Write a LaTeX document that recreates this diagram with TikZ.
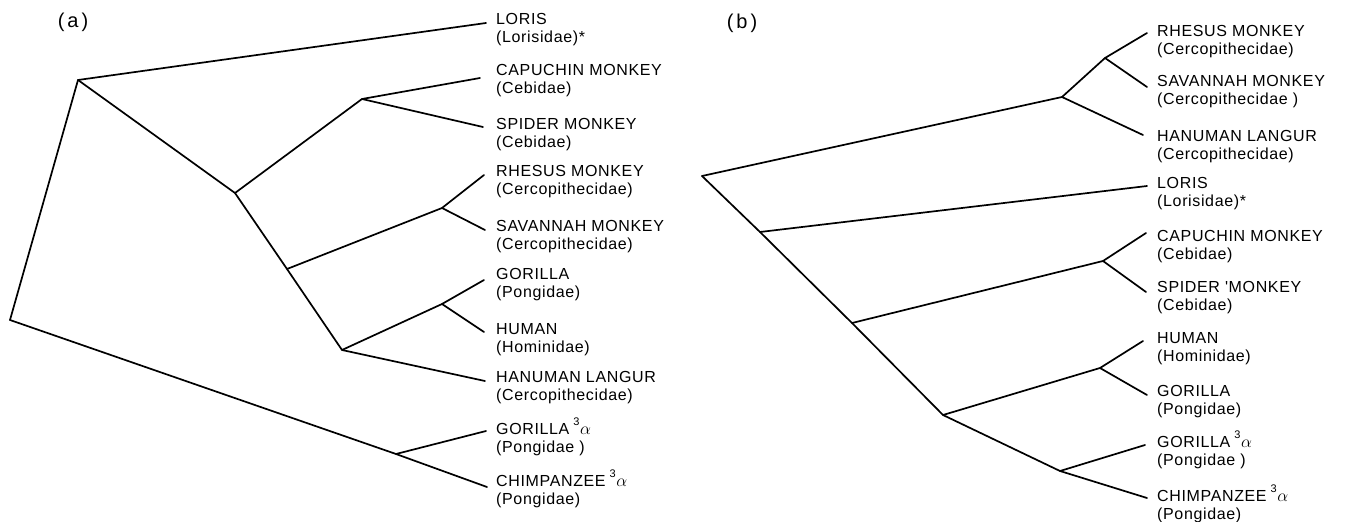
\documentclass[tikz,border=0pt]{standalone}
\usepackage{fontspec}
\setmainfont{Liberation Sans}
\newfontfamily\labfont{Liberation Sans}[LetterSpace=4]
\newfontfamily\panfont{Liberation Sans}[LetterSpace=15]
\newcommand{\sa}{\hspace{4pt}\smash{\raisebox{9pt}{\fontsize{11pt}{11pt}\selectfont 3}}\kern0.5pt{\fontsize{19pt}{19pt}\selectfont$\alpha$}}
\begin{document}
\begin{tikzpicture}[x=1pt,y=-1pt,
  branch/.style={line width=1.7pt,line cap=round,line join=round},
  leaf/.style={anchor=north west,inner sep=0pt,align=left,
    font=\labfont\fontsize{16pt}{18pt}\selectfont},
  panel/.style={inner sep=0pt,font=\panfont\fontsize{20pt}{20pt}\selectfont}]
\useasboundingbox (0,0) rectangle (1345,522);
% ---------- panel (a) ----------
\node[panel] (pa) at (73,22) {(a)};
\coordinate (ra) at (10,320);
\coordinate (a1) at (78,80);
\coordinate (a2) at (235,193);
\coordinate (aceb) at (362,99);
\coordinate (a3) at (287,269);
\coordinate (ars) at (442,208);
\coordinate (a4) at (342,350);
\coordinate (agh) at (442,304);
\coordinate (agc) at (396,454);
\coordinate (alor) at (486,23);
\coordinate (acap) at (480,78);
\coordinate (aspi) at (483,127);
\coordinate (arhe) at (484,175);
\coordinate (asav) at (485,230);
\coordinate (agor) at (484,280);
\coordinate (ahum) at (484,332);
\coordinate (ahan) at (485,381);
\coordinate (ag3) at (486,431);
\coordinate (achi) at (487,487);
\draw[branch] (ra) -- (a1) -- (alor);
\draw[branch] (a1) -- (a2) -- (aceb) -- (acap);
\draw[branch] (aceb) -- (aspi);
\draw[branch] (a2) -- (a3) -- (ars) -- (arhe);
\draw[branch] (ars) -- (asav);
\draw[branch] (a3) -- (a4) -- (agh) -- (agor);
\draw[branch] (agh) -- (ahum);
\draw[branch] (a4) -- (ahan);
\draw[branch] (ra) -- (agc) -- (achi);
\draw[branch] (agc) -- (ag3);
\node[leaf] (lalor) at (496,13) {LORIS\\(Lorisidae)*};
\node[leaf] (lacap) at (496,64) {CAPUCHIN MONKEY\\(Cebidae)};
\node[leaf] (laspi) at (496,118) {SPIDER MONKEY\\(Cebidae)};
\node[leaf] (larhe) at (496,165) {RHESUS MONKEY\\(Cercopithecidae)};
\node[leaf] (lasav) at (496,220) {SAVANNAH MONKEY\\(Cercopithecidae)};
\node[leaf] (lagor) at (496,268) {GORILLA\\(Pongidae)};
\node[leaf] (lahum) at (496,323) {HUMAN\\(Hominidae)};
\node[leaf] (lahan) at (496,371) {HANUMAN LANGUR\\(Cercopithecidae)};
\node[leaf] (lag3) at (496,423) {GORILLA\sa\\(Pongidae )};
\node[leaf] (lachi) at (496,475) {CHIMPANZEE\sa\\(Pongidae)};
% ---------- panel (b) ----------
\node[panel] (pb) at (742,23) {(b)};
\coordinate (rb) at (702,176);
\coordinate (bt) at (1062,97);
\coordinate (brs) at (1105,58);
\coordinate (b2) at (760,232);
\coordinate (b3) at (852,323);
\coordinate (bceb) at (1103,261);
\coordinate (b4) at (943,415);
\coordinate (bhg) at (1100,368);
\coordinate (bgc) at (1060,471);
\coordinate (brhe) at (1147,33);
\coordinate (bsav) at (1147,87);
\coordinate (bhan) at (1143,135);
\coordinate (blor) at (1147,186);
\coordinate (bcap) at (1146,233);
\coordinate (bspi) at (1146,292);
\coordinate (bhum) at (1143,341);
\coordinate (bgor) at (1147,395);
\coordinate (bg3) at (1145,445);
\coordinate (bchi) at (1147,498);
\draw[branch] (rb) -- (bt) -- (brs) -- (brhe);
\draw[branch] (brs) -- (bsav);
\draw[branch] (bt) -- (bhan);
\draw[branch] (rb) -- (b2) -- (blor);
\draw[branch] (b2) -- (b3) -- (bceb) -- (bcap);
\draw[branch] (bceb) -- (bspi);
\draw[branch] (b3) -- (b4) -- (bhg) -- (bhum);
\draw[branch] (bhg) -- (bgor);
\draw[branch] (b4) -- (bgc) -- (bchi);
\draw[branch] (bgc) -- (bg3);
\node[leaf] (lbrhe) at (1157,25) {RHESUS MONKEY\\(Cercopithecidae)};
\node[leaf] (lbsav) at (1157,75) {SAVANNAH MONKEY\\(Cercopithecidae )};
\node[leaf] (lbhan) at (1157,130) {HANUMAN LANGUR\\(Cercopithecidae)};
\node[leaf] (lblor) at (1157,177) {LORIS\\(Lorisidae)*};
\node[leaf] (lbcap) at (1157,230) {CAPUCHIN MONKEY\\(Cebidae)};
\node[leaf] (lbspi) at (1157,281) {SPIDER 'MONKEY\\(Cebidae)};
\node[leaf] (lbhum) at (1157,332) {HUMAN\\(Hominidae)};
\node[leaf] (lbgor) at (1157,385) {GORILLA\\(Pongidae)};
\node[leaf] (lbg3) at (1157,436) {GORILLA\sa\\(Pongidae )};
\node[leaf] (lbchi) at (1157,490) {CHIMPANZEE\sa\\(Pongidae)};
\end{tikzpicture}
\end{document}
